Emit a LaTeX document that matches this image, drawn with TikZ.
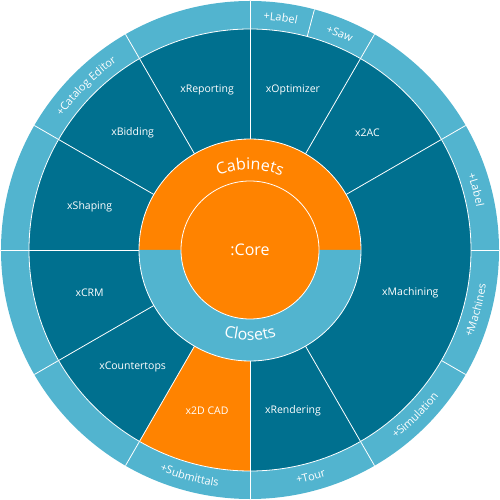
\documentclass[tikz,border=0pt]{standalone}
\usepackage{fontspec}
\setsansfont{Open Sans}
\usepackage{xcolor}
\usepackage{tikz}
\usetikzlibrary{decorations.text}
\definecolor{petrol}{HTML}{00708F}
\definecolor{skyblue}{HTML}{52B4CF}
\definecolor{coreorange}{HTML}{FF8300}
\tikzset{
  divider/.style={draw=white, line width=0.8pt},
  module/.style={text=white, font=\sffamily\fontsize{10.5}{12}\selectfont, inner sep=0pt},
  corelabel/.style={text=white, font=\sffamily\fontsize{16}{18}\selectfont, inner sep=0pt},
}
% curved text: start angle, end angle, baseline radius (pt), size (pt), text
\newcommand{\ringtext}[5]{%
  \path[decorate, decoration={text along path, text align=center, text color=white,
      text={|\sffamily\fontsize{#4}{#4}\selectfont|#5}}]
    (#1:#3pt) arc[start angle=#1, end angle=#2, radius=#3pt];}

\begin{document}
\begin{tikzpicture}
  \useasboundingbox (-250pt,-250pt) rectangle (250pt,250pt);

  % Rings, from the outside in
  \fill[skyblue] (0,0) circle (249pt);
  \fill[petrol] (0,0) circle (221pt);
  \fill[coreorange] (0,0) -- (240:221pt) arc[start angle=240, end angle=270, radius=221pt] -- cycle;
  \fill[coreorange] (0:111pt) arc[start angle=0, end angle=180, radius=111pt] -- cycle;
  \fill[skyblue] (180:111pt) arc[start angle=180, end angle=360, radius=111pt] -- cycle;
  \fill[coreorange] (0,0) circle (69pt);

  % White dividers
  \foreach \a in {30,60,...,300}
    \draw[divider] (\a:111pt) -- (\a:221pt);
  \foreach \a in {0,30,...,330,75}
    \draw[divider] (\a:221pt) -- (\a:249pt);
  \draw[divider] (0,0) circle (221pt);
  \draw[divider] (0,0) circle (111pt);
  \draw[divider] (0,0) circle (69pt);

  % Core
  \node[corelabel] (core) at (0,0) {:Core};
  \ringtext{140}{40}{80.5}{16}{Cabinets}
  \ringtext{220}{320}{90.5}{16}{Closets}

  % Modules
  \node[module] (optimizer) at (75:166pt) {xOptimizer};
  \node[module] (twoac) at (45:166pt) {x2AC};
  \node[module] (machining) at (-15:166pt) {xMachining};
  \node[module] (rendering) at (-75:166pt) {xRendering};
  \node[module] (cad) at (-105:166pt) {x2D CAD};
  \node[module] (countertops) at (-135:166pt) {xCountertops};
  \node[module] (crm) at (-165:166pt) {xCRM};
  \node[module] (shaping) at (165:166pt) {xShaping};
  \node[module] (bidding) at (135:166pt) {xBidding};
  \node[module] (reporting) at (105:166pt) {xReporting};

  % Add-ons on the outer ring
  \ringtext{90}{75}{230.5}{11}{+Label}
  \ringtext{75}{60}{230.5}{11}{+Saw}
  \ringtext{30}{0}{230.5}{11}{+Label}
  \ringtext{-30}{0}{238.5}{11}{+Machines}
  \ringtext{-60}{-30}{238.5}{11}{+Simulation}
  \ringtext{-90}{-60}{238.5}{11}{+Tour}
  \ringtext{-120}{-90}{238.5}{11}{+Submittals}
  \ringtext{150}{120}{230.5}{11}{+Catalog Editor}
\end{tikzpicture}
\end{document}
